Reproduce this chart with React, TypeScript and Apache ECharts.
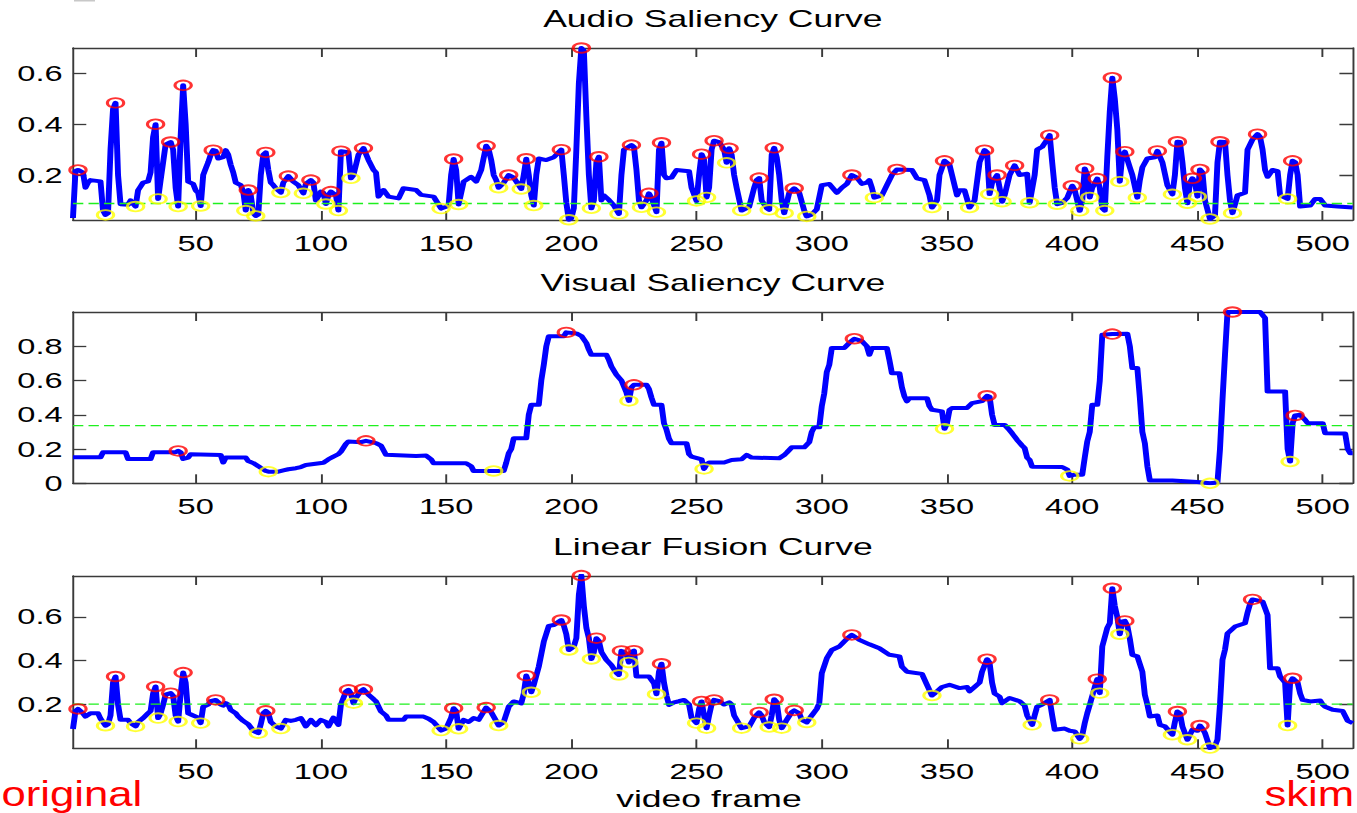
import React, { useEffect, useRef } from "react";
import * as echarts from "echarts";

// ---------------- data ----------------
const frameMin = 1;
const frameMax = 512;
const xTickValues = [50, 100, 150, 200, 250, 300, 350, 400, 450, 500];

const audioYTicks = [0.2, 0.4, 0.6];
const visualYTicks = [0, 0.2, 0.4, 0.6, 0.8];
const fusionYTicks = [0.2, 0.4, 0.6];

const audioMean = 0.088;
const visualMean = 0.337;
const fusionMean = 0.202;

const audioCurve: [number, number][] = [
  [1,0.031],[2,0.215],[3,0.22],[5,0.21],[6,0.15],[7,0.17],[8,0.18],[12,0.175],[13,0.06],[14,0.043],[15,0.05],[16,0.3],[17,0.46],[18,0.484],[19,0.2],[20,0.085],[23,0.083],[24,0.1],[26,0.076],[27,0.14],[28,0.155],[29,0.17],[31,0.175],[32,0.21],[33,0.35],[34,0.4],[35,0.106],[36,0.18],[37,0.25],[38,0.32],[40,0.33],[41,0.3],[42,0.15],[43,0.076],[44,0.35],[45,0.553],[46,0.4],[47,0.174],[49,0.165],[50,0.14],[51,0.13],[52,0.078],[53,0.2],[54,0.226],[55,0.25],[56,0.28],[57,0.298],[58,0.295],[59,0.265],[61,0.27],[62,0.298],[63,0.28],[64,0.24],[65,0.21],[66,0.17],[68,0.16],[69,0.135],[70,0.06],[71,0.141],[72,0.12],[73,0.05],[74,0.039],[75,0.045],[76,0.2],[77,0.28],[78,0.289],[79,0.22],[80,0.17],[81,0.16],[82,0.148],[84,0.131],[85,0.17],[87,0.196],[89,0.174],[91,0.16],[93,0.128],[94,0.165],[96,0.18],[97,0.17],[98,0.1],[100,0.135],[101,0.13],[102,0.086],[103,0.12],[104,0.135],[106,0.12],[107,0.06],[108,0.294],[111,0.29],[112,0.187],[113,0.2],[115,0.28],[117,0.306],[119,0.259],[121,0.22],[122,0.21],[123,0.115],[125,0.141],[127,0.115],[131,0.108],[133,0.148],[138,0.141],[140,0.122],[145,0.115],[148,0.068],[150,0.075],[151,0.082],[152,0.2],[153,0.263],[154,0.22],[155,0.084],[157,0.174],[160,0.193],[162,0.174],[164,0.22],[166,0.315],[167,0.3],[168,0.259],[169,0.2],[170,0.18],[171,0.15],[173,0.17],[175,0.2],[177,0.19],[180,0.145],[181,0.2],[182,0.264],[183,0.2],[184,0.12],[185,0.08],[186,0.2],[187,0.265],[190,0.259],[193,0.27],[196,0.3],[197,0.2],[198,0.09],[199,0.024],[200,0.03],[201,0.07],[202,0.3],[203,0.56],[204,0.7],[205,0.69],[206,0.43],[207,0.2],[208,0.069],[209,0.1],[210,0.25],[211,0.272],[212,0.1],[213,0.12],[215,0.102],[217,0.08],[219,0.047],[220,0.2],[221,0.3],[224,0.318],[225,0.31],[226,0.22],[227,0.1],[228,0.073],[230,0.1],[231,0.128],[232,0.11],[234,0.054],[235,0.3],[236,0.327],[237,0.2],[238,0.187],[240,0.19],[242,0.22],[247,0.215],[248,0.15],[250,0.098],[251,0.2],[252,0.282],[253,0.26],[254,0.112],[255,0.15],[256,0.3],[257,0.335],[259,0.33],[261,0.3],[262,0.248],[263,0.305],[264,0.28],[265,0.2],[266,0.15],[268,0.06],[271,0.075],[273,0.15],[274,0.18],[275,0.188],[276,0.1],[278,0.07],[279,0.063],[280,0.28],[281,0.307],[282,0.27],[283,0.2],[284,0.1],[285,0.05],[287,0.13],[289,0.148],[291,0.13],[293,0.06],[294,0.037],[296,0.045],[298,0.065],[300,0.16],[303,0.165],[306,0.13],[308,0.15],[310,0.165],[312,0.2],[314,0.19],[316,0.165],[318,0.17],[319,0.18],[320,0.15],[321,0.111],[324,0.12],[326,0.16],[328,0.2],[330,0.222],[336,0.22],[338,0.187],[341,0.18],[343,0.12],[344,0.072],[346,0.1],[347,0.2],[349,0.256],[351,0.24],[352,0.2],[354,0.12],[355,0.14],[357,0.14],[359,0.072],[361,0.1],[363,0.25],[365,0.298],[366,0.29],[367,0.125],[368,0.17],[370,0.2],[371,0.15],[372,0.095],[373,0.12],[375,0.2],[377,0.238],[379,0.2],[382,0.205],[383,0.091],[385,0.2],[386,0.3],[388,0.311],[390,0.34],[391,0.357],[392,0.25],[393,0.15],[394,0.085],[396,0.09],[398,0.11],[400,0.158],[401,0.14],[403,0.059],[404,0.1],[405,0.226],[406,0.2],[407,0.112],[408,0.15],[410,0.186],[411,0.15],[412,0.07],[413,0.06],[414,0.27],[415,0.45],[416,0.583],[417,0.5],[418,0.38],[419,0.174],[420,0.28],[421,0.292],[423,0.23],[424,0.2],[426,0.111],[427,0.18],[428,0.23],[430,0.265],[433,0.27],[434,0.295],[436,0.25],[438,0.16],[440,0.124],[441,0.2],[442,0.331],[443,0.33],[444,0.25],[445,0.15],[446,0.089],[447,0.17],[448,0.187],[449,0.17],[450,0.115],[451,0.222],[452,0.21],[453,0.1],[455,0.027],[457,0.04],[458,0.25],[459,0.331],[461,0.33],[462,0.2],[463,0.1],[464,0.05],[466,0.12],[469,0.13],[470,0.3],[472,0.34],[474,0.361],[475,0.35],[476,0.3],[477,0.22],[478,0.193],[480,0.22],[482,0.215],[483,0.12],[486,0.106],[487,0.2],[488,0.256],[489,0.25],[490,0.2],[491,0.076],[495,0.08],[497,0.106],[499,0.106],[501,0.08],[506,0.076],[512,0.072]
];
const audioPeaks: [number, number][] = [
  [3,0.22],[18,0.484],[34,0.4],[40,0.33],[45,0.553],[57,0.298],[71,0.141],[78,0.289],[87,0.196],[96,0.18],[104,0.135],[108,0.294],[117,0.306],[153,0.263],[166,0.315],[175,0.2],[182,0.264],[196,0.3],[204,0.7],[211,0.272],[224,0.318],[231,0.128],[236,0.327],[252,0.282],[257,0.335],[263,0.305],[275,0.188],[281,0.307],[289,0.148],[312,0.2],[330,0.222],[349,0.256],[365,0.298],[370,0.2],[377,0.238],[391,0.357],[400,0.158],[405,0.226],[410,0.186],[416,0.583],[421,0.292],[434,0.295],[442,0.331],[448,0.187],[451,0.222],[459,0.331],[474,0.361],[488,0.256]
];
const audioValleys: [number, number][] = [
  [14,0.043],[26,0.076],[35,0.106],[43,0.076],[52,0.078],[70,0.06],[74,0.039],[84,0.131],[93,0.128],[102,0.086],[107,0.06],[112,0.187],[148,0.068],[155,0.084],[171,0.15],[180,0.145],[185,0.08],[199,0.024],[208,0.069],[219,0.047],[228,0.073],[234,0.054],[250,0.098],[254,0.112],[262,0.248],[268,0.06],[279,0.063],[285,0.05],[294,0.037],[321,0.111],[344,0.072],[359,0.072],[367,0.125],[372,0.095],[383,0.091],[394,0.085],[403,0.059],[407,0.112],[413,0.06],[419,0.174],[426,0.111],[440,0.124],[446,0.089],[450,0.115],[455,0.027],[464,0.05],[486,0.106]
];

const visualCurve: [number, number][] = [
  [1,0.152],[12,0.152],[13,0.181],[22,0.181],[23,0.142],[32,0.142],[33,0.181],[42,0.181],[43,0.189],[44,0.181],[45,0.142],[47,0.15],[48,0.17],[60,0.165],[61,0.121],[62,0.15],[70,0.15],[71,0.13],[73,0.118],[75,0.1],[76,0.09],[78,0.072],[79,0.068],[83,0.068],[85,0.075],[87,0.082],[90,0.088],[92,0.095],[94,0.107],[101,0.12],[103,0.14],[105,0.156],[107,0.17],[108,0.185],[110,0.23],[111,0.244],[116,0.24],[118,0.248],[122,0.235],[124,0.22],[126,0.166],[138,0.16],[142,0.162],[144,0.14],[145,0.117],[158,0.117],[160,0.1],[161,0.072],[169,0.072],[173,0.072],[174,0.12],[175,0.175],[176,0.2],[177,0.263],[182,0.263],[183,0.4],[184,0.458],[187,0.458],[188,0.6],[189,0.692],[190,0.8],[191,0.858],[197,0.858],[198,0.881],[202,0.875],[204,0.86],[206,0.819],[207,0.78],[208,0.75],[214,0.75],[215,0.72],[216,0.682],[218,0.634],[220,0.6],[222,0.53],[223,0.481],[224,0.56],[225,0.575],[230,0.575],[231,0.55],[232,0.5],[233,0.458],[236,0.458],[237,0.35],[238,0.312],[239,0.26],[240,0.234],[246,0.234],[247,0.17],[248,0.156],[252,0.14],[253,0.084],[254,0.11],[255,0.121],[261,0.121],[264,0.136],[268,0.14],[270,0.166],[272,0.15],[283,0.146],[285,0.165],[286,0.179],[288,0.21],[293,0.21],[295,0.24],[296,0.3],[297,0.327],[299,0.327],[300,0.45],[301,0.526],[302,0.65],[303,0.692],[304,0.79],[309,0.79],[311,0.82],[313,0.844],[316,0.83],[318,0.8],[319,0.75],[320,0.79],[326,0.79],[327,0.72],[328,0.643],[331,0.643],[332,0.56],[333,0.507],[334,0.478],[335,0.497],[342,0.497],[343,0.45],[344,0.429],[348,0.42],[349,0.318],[350,0.35],[351,0.429],[352,0.439],[358,0.44],[360,0.468],[364,0.48],[366,0.511],[367,0.505],[368,0.4],[369,0.341],[373,0.341],[375,0.31],[376,0.292],[378,0.253],[380,0.22],[381,0.205],[382,0.15],[383,0.136],[384,0.097],[396,0.095],[398,0.08],[399,0.043],[401,0.05],[404,0.05],[405,0.15],[406,0.244],[407,0.3],[408,0.458],[410,0.458],[411,0.6],[412,0.867],[416,0.871],[422,0.873],[423,0.8],[424,0.673],[426,0.673],[427,0.5],[428,0.3],[429,0.234],[430,0.1],[431,0.016],[440,0.016],[450,0.008],[455,0.0],[458,0.005],[459,0.2],[460,0.487],[461,0.75],[462,1.0],[475,1.0],[477,0.965],[478,0.536],[485,0.536],[486,0.2],[487,0.127],[488,0.35],[489,0.396],[491,0.4],[493,0.37],[494,0.351],[500,0.351],[501,0.292],[509,0.29],[510,0.2],[511,0.175],[512,0.175]
];
const visualPeaks: [number, number][] = [
  [43,0.189],[118,0.248],[198,0.881],[225,0.575],[313,0.844],[366,0.511],[416,0.871],[464,1.0],[489,0.396]
];
const visualValleys: [number, number][] = [
  [79,0.068],[169,0.072],[223,0.481],[253,0.084],[349,0.318],[399,0.043],[455,0.0],[487,0.127]
];

const fusionCurve: [number, number][] = [
  [1,0.088],[2,0.17],[3,0.18],[5,0.16],[6,0.145],[8,0.16],[11,0.16],[12,0.135],[14,0.103],[15,0.11],[16,0.15],[17,0.3],[18,0.328],[19,0.2],[20,0.13],[23,0.13],[24,0.115],[26,0.1],[27,0.12],[29,0.138],[31,0.16],[32,0.17],[33,0.25],[34,0.282],[35,0.138],[36,0.16],[37,0.2],[38,0.245],[40,0.252],[41,0.24],[42,0.15],[43,0.122],[44,0.25],[45,0.346],[46,0.3],[47,0.16],[49,0.15],[51,0.14],[52,0.115],[53,0.19],[55,0.2],[56,0.215],[58,0.221],[60,0.2],[61,0.195],[62,0.206],[63,0.2],[64,0.175],[66,0.16],[67,0.145],[69,0.125],[71,0.11],[73,0.08],[75,0.069],[76,0.11],[77,0.16],[78,0.171],[79,0.16],[80,0.12],[82,0.1],[84,0.09],[85,0.11],[86,0.13],[88,0.125],[90,0.13],[92,0.138],[93,0.12],[94,0.1],[96,0.13],[98,0.105],[100,0.13],[102,0.12],[103,0.1],[105,0.14],[107,0.107],[108,0.2],[110,0.26],[111,0.267],[112,0.25],[113,0.206],[114,0.23],[116,0.262],[117,0.27],[119,0.245],[121,0.225],[122,0.214],[124,0.168],[126,0.15],[127,0.13],[133,0.13],[134,0.145],[141,0.145],[143,0.135],[145,0.12],[148,0.081],[150,0.09],[152,0.14],[153,0.183],[154,0.17],[155,0.089],[157,0.13],[159,0.12],[161,0.138],[163,0.13],[166,0.186],[168,0.165],[171,0.104],[173,0.12],[175,0.19],[177,0.214],[180,0.205],[181,0.25],[182,0.332],[183,0.3],[184,0.256],[185,0.29],[187,0.373],[189,0.487],[191,0.559],[193,0.563],[196,0.586],[197,0.56],[198,0.52],[199,0.449],[201,0.465],[202,0.503],[203,0.7],[204,0.789],[205,0.65],[206,0.55],[207,0.503],[208,0.408],[209,0.44],[210,0.503],[211,0.49],[212,0.44],[214,0.404],[216,0.38],[218,0.345],[219,0.335],[220,0.445],[221,0.44],[222,0.43],[223,0.392],[224,0.44],[225,0.446],[226,0.328],[231,0.328],[233,0.297],[234,0.247],[235,0.35],[236,0.386],[237,0.3],[238,0.24],[239,0.198],[241,0.21],[243,0.215],[245,0.221],[247,0.2],[248,0.14],[250,0.115],[251,0.18],[252,0.214],[253,0.15],[254,0.092],[255,0.15],[256,0.2],[257,0.221],[259,0.215],[261,0.2],[263,0.21],[264,0.2],[265,0.15],[268,0.092],[271,0.1],[273,0.14],[275,0.164],[276,0.15],[277,0.12],[279,0.097],[280,0.15],[281,0.224],[282,0.21],[283,0.13],[284,0.092],[285,0.11],[286,0.13],[288,0.165],[289,0.173],[291,0.16],[292,0.13],[294,0.118],[296,0.15],[298,0.18],[299,0.206],[300,0.343],[302,0.411],[304,0.449],[307,0.465],[310,0.5],[312,0.518],[315,0.495],[319,0.475],[323,0.457],[327,0.427],[331,0.42],[332,0.373],[334,0.35],[340,0.34],[342,0.29],[344,0.241],[346,0.26],[348,0.28],[351,0.29],[355,0.275],[358,0.28],[359,0.26],[361,0.28],[363,0.3],[364,0.35],[366,0.407],[367,0.39],[368,0.3],[369,0.25],[371,0.236],[372,0.206],[375,0.23],[379,0.215],[381,0.195],[382,0.15],[384,0.107],[385,0.15],[386,0.19],[388,0.2],[391,0.221],[392,0.15],[393,0.085],[397,0.09],[399,0.08],[401,0.077],[403,0.043],[404,0.06],[405,0.115],[406,0.16],[407,0.198],[409,0.28],[410,0.316],[411,0.252],[412,0.465],[414,0.55],[415,0.571],[416,0.731],[417,0.65],[418,0.6],[419,0.521],[420,0.58],[421,0.582],[422,0.56],[423,0.5],[424,0.427],[426,0.42],[428,0.35],[429,0.244],[430,0.2],[431,0.145],[434,0.15],[435,0.107],[437,0.1],[440,0.062],[441,0.12],[442,0.168],[443,0.16],[444,0.1],[446,0.039],[448,0.085],[450,0.08],[451,0.104],[452,0.09],[453,0.07],[455,0.001],[457,0.01],[458,0.04],[459,0.2],[460,0.404],[461,0.45],[462,0.525],[465,0.556],[469,0.571],[470,0.62],[471,0.66],[472,0.68],[476,0.67],[477,0.64],[478,0.609],[479,0.366],[482,0.366],[483,0.328],[485,0.3],[486,0.104],[487,0.3],[488,0.32],[490,0.3],[491,0.25],[492,0.221],[495,0.214],[499,0.218],[500,0.2],[501,0.19],[504,0.176],[508,0.17],[510,0.125],[512,0.115]
];
const fusionPeaks: [number, number][] = [
  [3,0.18],[18,0.328],[34,0.282],[40,0.252],[45,0.346],[58,0.221],[78,0.171],[111,0.267],[117,0.27],[153,0.183],[166,0.186],[182,0.332],[196,0.586],[204,0.789],[210,0.503],[220,0.445],[225,0.446],[236,0.386],[252,0.214],[257,0.221],[275,0.164],[281,0.224],[289,0.173],[312,0.518],[366,0.407],[391,0.221],[410,0.316],[416,0.731],[421,0.582],[442,0.168],[451,0.104],[472,0.68],[488,0.32]
];
const fusionValleys: [number, number][] = [
  [14,0.103],[26,0.1],[35,0.138],[43,0.122],[52,0.115],[75,0.069],[84,0.09],[113,0.206],[148,0.081],[155,0.089],[171,0.104],[184,0.256],[199,0.449],[208,0.408],[219,0.335],[223,0.392],[234,0.247],[250,0.115],[254,0.092],[268,0.092],[279,0.097],[284,0.092],[294,0.118],[344,0.241],[384,0.107],[403,0.043],[411,0.252],[419,0.521],[440,0.062],[446,0.039],[455,0.001],[486,0.104]
];

const titles = ["Audio Saliency Curve", "Visual Saliency Curve", "Linear Fusion Curve"];
const xAxisName = "video frame";
const leftNote = "original";
const rightNote = "skim";

// ---------------- layout (unscaled coordinates; the canvas is stretched horizontally) ----------------
const SX = 1.48;
const W = 917;
const H = 813;
const GRID_LEFT = 49.3;
const GRID_WIDTH = 864.7;
const FONT = "'Liberation Sans', Arial, Helvetica, sans-serif";
const AXIS_COLOR = "#3a3a3a";

const panelLayout = [
  { top: 48, height: 172, yMin: 0.023, yMax: 0.7 },
  { top: 312, height: 171.3, yMin: 0, yMax: 1 },
  { top: 576, height: 172.3, yMin: 0, yMax: 0.787 },
];

const panels = [
  { curve: audioCurve, peaks: audioPeaks, valleys: audioValleys, mean: audioMean, yTicks: audioYTicks },
  { curve: visualCurve, peaks: visualPeaks, valleys: visualValleys, mean: visualMean, yTicks: visualYTicks },
  { curve: fusionCurve, peaks: fusionPeaks, valleys: fusionValleys, mean: fusionMean, yTicks: fusionYTicks },
];

function buildOption() {
  const grid: any[] = [];
  const xAxis: any[] = [];
  const yAxis: any[] = [];
  const series: any[] = [];
  const graphic: any[] = [];
  const lineStyle = { color: AXIS_COLOR, width: 1.3 };

  panels.forEach((p, i) => {
    const L = panelLayout[i];
    grid.push({ left: GRID_LEFT, top: L.top, width: GRID_WIDTH, height: L.height, containLabel: false });
    const xBase = {
      type: "value",
      gridIndex: i,
      min: frameMin,
      max: frameMax,
      axisLine: { show: true, onZero: false, lineStyle },
      axisTick: { show: true, inside: true, length: 9, customValues: xTickValues, lineStyle },
      splitLine: { show: false },
    };
    xAxis.push({
      ...xBase,
      position: "bottom",
      axisLabel: { show: true, customValues: xTickValues, color: "#000", fontSize: 22, fontFamily: FONT, margin: 12 },
    });
    xAxis.push({ ...xBase, position: "top", axisLabel: { show: false } });
    const yBase = {
      type: "value",
      gridIndex: i,
      min: L.yMin,
      max: L.yMax,
      axisLine: { show: true, onZero: false, lineStyle },
      axisTick: { show: true, inside: true, length: 9, customValues: p.yTicks, lineStyle },
      splitLine: { show: false },
    };
    yAxis.push({
      ...yBase,
      position: "left",
      axisLabel: {
        show: true,
        customValues: p.yTicks,
        color: "#000",
        fontSize: 22,
        fontFamily: FONT,
        margin: 7,
        formatter: (v: number) => (v === 0 ? "0" : v.toFixed(1)),
      },
    });
    yAxis.push({ ...yBase, position: "right", axisLabel: { show: false } });

    const xi = i * 2;
    const yi = i * 2;
    series.push({
      type: "line",
      xAxisIndex: xi,
      yAxisIndex: yi,
      data: p.curve,
      showSymbol: false,
      symbol: "none",
      lineStyle: { color: "#0000ff", width: 4, join: "round" },
      z: 2,
      silent: true,
    });
    series.push({
      type: "line",
      xAxisIndex: xi,
      yAxisIndex: yi,
      data: [[frameMin, p.mean], [frameMax, p.mean]],
      showSymbol: false,
      symbol: "none",
      lineStyle: { color: "#1ef01e", width: 1.3, type: [7, 3.5] },
      z: 3,
      silent: true,
    });
    series.push({
      type: "scatter",
      xAxisIndex: xi,
      yAxisIndex: yi,
      data: p.peaks,
      symbol: "circle",
      symbolSize: [11, 9.5],
      clip: false,
      itemStyle: { color: "rgba(0,0,0,0)", borderColor: "#ff0000", borderWidth: 2 },
      z: 4,
      silent: true,
    });
    series.push({
      type: "scatter",
      xAxisIndex: xi,
      yAxisIndex: yi,
      data: p.valleys,
      symbol: "circle",
      symbolSize: [11, 9.5],
      clip: false,
      itemStyle: { color: "rgba(0,0,0,0)", borderColor: "#ffff00", borderWidth: 2 },
      z: 4,
      silent: true,
    });

    graphic.push({
      type: "text",
      x: GRID_LEFT + GRID_WIDTH / 2,
      y: L.top - 21 - 8.3,
      style: { text: titles[i], fill: "#000", fontSize: 24, fontFamily: FONT, align: "center", verticalAlign: "middle" },
      silent: true,
    });
  });

  graphic.push({
    type: "text",
    x: 479,
    y: 798.4,
    style: { text: xAxisName, fill: "#000", fontSize: 24, fontFamily: FONT, align: "center", verticalAlign: "middle" },
    silent: true,
  });
  graphic.push({
    type: "text",
    x: 1,
    y: 793.5,
    scaleX: 0.82,
    style: { text: leftNote, fill: "#ff0000", fontSize: 36, fontFamily: FONT, align: "left", verticalAlign: "middle" },
    silent: true,
  });
  graphic.push({
    type: "text",
    x: 915,
    y: 793.5,
    scaleX: 0.82,
    style: { text: rightNote, fill: "#ff0000", fontSize: 36, fontFamily: FONT, align: "right", verticalAlign: "middle" },
    silent: true,
  });
  graphic.push({
    type: "rect",
    shape: { x: 50, y: 0, width: 14.2, height: 1.5 },
    style: { fill: "#c8c8c8" },
    silent: true,
  });

  return {
    animation: false,
    backgroundColor: "#ffffff",
    grid,
    xAxis,
    yAxis,
    series,
    graphic,
  };
}

export default function App() {
  const ref = useRef<HTMLDivElement>(null);
  useEffect(() => {
    if (!ref.current) return;
    const chart = echarts.init(ref.current, null, { renderer: "svg" });
    chart.setOption(buildOption() as any);
    return () => chart.dispose();
  }, []);
  return (
    <div
      ref={ref}
      style={{
        position: "fixed",
        left: 0,
        top: 0,
        width: W,
        height: H,
        transform: `scaleX(${SX})`,
        transformOrigin: "0 0",
        background: "#fff",
      }}
    />
  );
}
